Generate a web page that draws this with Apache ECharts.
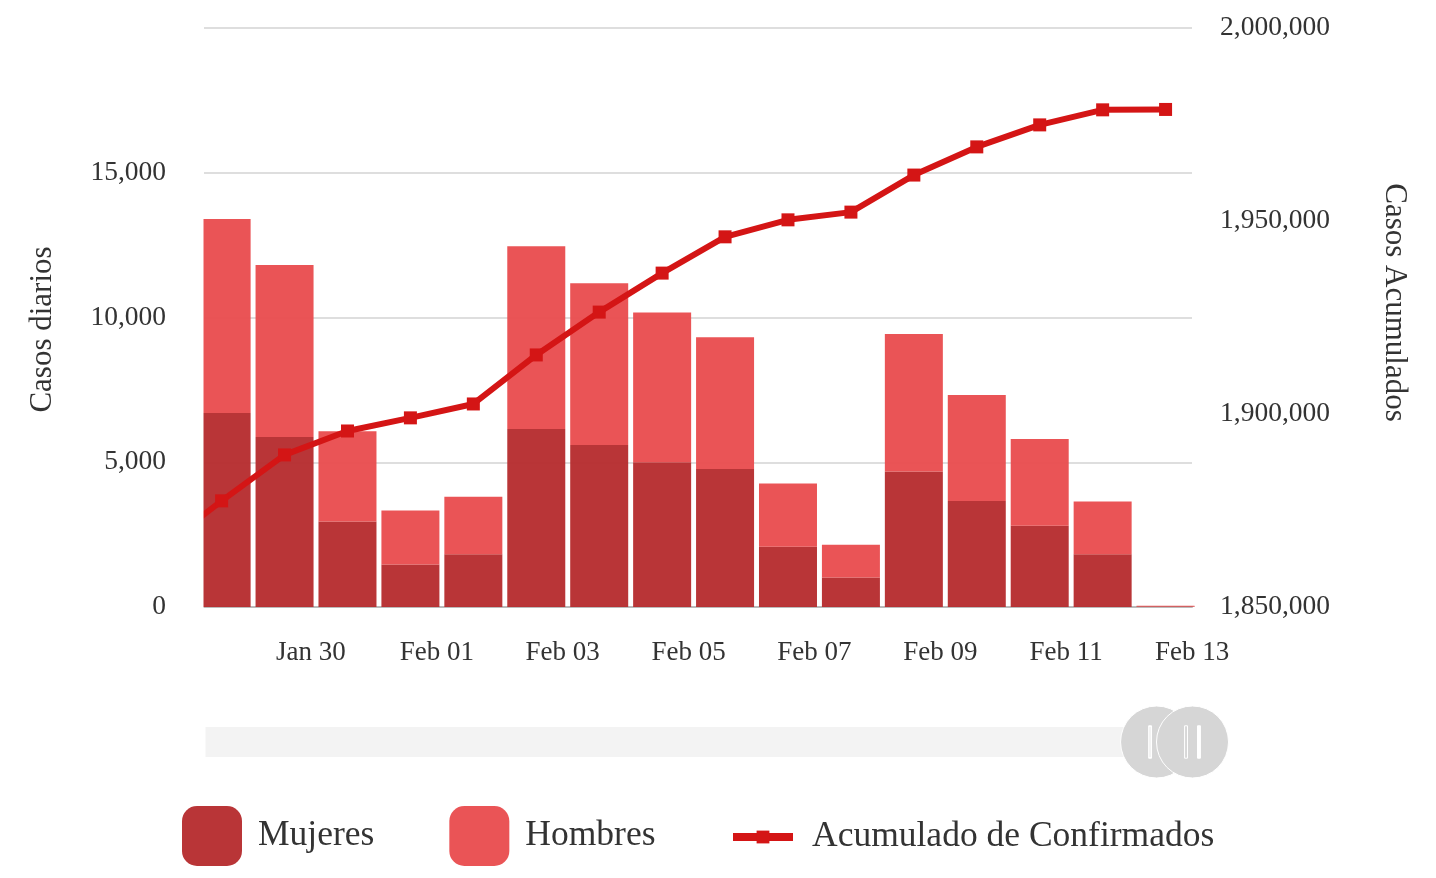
<!DOCTYPE html>
<html>
<head>
<meta charset="utf-8">
<script src="https://cdn.jsdelivr.net/npm/echarts@6/dist/echarts.min.js"></script>
<style>
html,body{margin:0;padding:0;background:#fff;}
#chart{width:1436px;height:878px;}
</style>
</head>
<body>
<div id="chart"></div>
<script>
// ---- data ----
const dates = ['2021-01-27','2021-01-28','2021-01-29','2021-01-30','2021-01-31','2021-02-01','2021-02-02','2021-02-03','2021-02-04','2021-02-05','2021-02-06','2021-02-07','2021-02-08','2021-02-09','2021-02-10','2021-02-11','2021-02-12'];
const mujeres = [null,6700,5870,2950,1470,1820,6150,5600,5000,4770,2080,1020,4680,3660,2810,1820,20];
const hombres = [null,6700,5940,3120,1860,1990,6310,5580,5170,4550,2190,1130,4750,3660,2990,1820,20];
const acumulado = [1865000,1877500,1889400,1895600,1899000,1902600,1915300,1926400,1936500,1945900,1950300,1952300,1961900,1969200,1974900,1978800,1978900];
const leftTicks = [0,5000,10000,15000,20000];
const rightTicks = [1850000,1900000,1950000,2000000];

const DAY = 86400000;
const BASE = Date.UTC(2021,0,30);
const MONTHS = ['Jan','Feb','Mar','Apr','May','Jun','Jul','Aug','Sep','Oct','Nov','Dec'];
// x position = milliseconds from BASE (bars centred inside their day)
function dayPos(d){ const p=d.split('-').map(Number); return Date.UTC(p[0],p[1]-1,p[2]) - BASE + Math.round(0.58*DAY); }
const xs = dates.map(dayPos);
// value first, position second, so the stack runs on the value column
const pairVX = arr => arr.map((v,i)=>[v, xs[i]]);
const pair = arr => arr.map((v,i)=>[xs[i], v]);
const fmt = v => Number(v).toLocaleString('en-US');
const FONT = 'Liberation Serif';

const chart = echarts.init(document.getElementById('chart'));
chart.setOption({
  animation:false,
  backgroundColor:'#fff',
  textStyle:{fontFamily:FONT},
  grid:{left:204, right:244, top:28, bottom:271, containLabel:false},
  legend:[{
    data:['Mujeres','Hombres'],
    left:177, top:801, itemWidth:60, itemHeight:60, itemGap:75,
    icon:'roundRect',
    textStyle:{fontFamily:FONT, fontSize:35.5, color:'#333', padding:[2,0,0,11]}
  },{
    data:[{name:'Acumulado de Confirmados', lineStyle:{width:8}}],
    left:724, top:814, itemWidth:60, itemHeight:16,
    textStyle:{fontFamily:FONT, fontSize:35.5, color:'#333', padding:[2,0,0,14]}
  }],
  // white mask: keeps the half-visible first bar inside the plot's left edge
  graphic:[{type:'rect', z:100, silent:true, shape:{x:176, y:90, width:27.5, height:519}, style:{fill:'#fff'}}],
  xAxis:{
    type:'value', min:-395*DAY, max:14*DAY, minInterval:2*DAY, maxInterval:2*DAY, splitNumber:8,
    axisLine:{show:true, onZero:false, lineStyle:{color:'#bbb', width:2}},
    axisTick:{show:false},
    splitLine:{show:false},
    axisLabel:{
      showMinLabel:false, margin:32,
      fontFamily:FONT, fontSize:27, color:'#333',
      formatter:function(v){
        if (Math.abs(v/DAY-Math.round(v/DAY))>1e-6) return '';
        const d=new Date(BASE+v);
        return MONTHS[d.getUTCMonth()]+' '+String(d.getUTCDate()).padStart(2,'0');
      }
    }
  },
  yAxis:[{
    type:'value', min:leftTicks[0], max:leftTicks[leftTicks.length-1], interval:5000,
    name:'Casos diarios', nameLocation:'middle', nameGap:146,
    nameTextStyle:{fontFamily:FONT, fontSize:31, color:'#333', padding:[0,24,0,0]},
    axisLine:{show:false, onZero:false}, axisTick:{show:false},
    axisLabel:{showMaxLabel:false, margin:38, fontFamily:FONT, fontSize:27.5, color:'#333', formatter:fmt},
    splitLine:{lineStyle:{color:'#dedede', width:2}}
  },{
    type:'value', position:'right', min:rightTicks[0], max:rightTicks[rightTicks.length-1], interval:50000,
    name:'Casos Acumulados', nameLocation:'middle', nameGap:187, nameRotate:-90,
    nameTextStyle:{fontFamily:FONT, fontSize:31, color:'#333', padding:[0,30,0,0]},
    axisLine:{show:false, onZero:false}, axisTick:{show:false},
    axisLabel:{margin:28, fontFamily:FONT, fontSize:27.5, color:'#333', formatter:fmt},
    splitLine:{show:false}
  }],
  dataZoom:[{
    type:'slider', xAxisIndex:0, filterMode:'none',
    startValue:-1.7*DAY, endValue:14*DAY,
    left:204, right:244, top:727, height:30,
    showDetail:false, showDataShadow:false, brushSelect:false, moveHandleSize:0,
    backgroundColor:'#f3f3f3', borderColor:'transparent', borderRadius:15,
    fillerColor:'rgba(0,0,0,0)',
    handleIcon:'path://M0,-10A10,10 0 1,1 0,10A10,10 0 1,1 0,-10Z M-2.2,-4.5L-2.2,4.5L-1.4,4.5L-1.4,-4.5Z M1.4,-4.5L1.4,4.5L2.2,4.5L2.2,-4.5Z',
    handleSize:'240%',
    handleStyle:{color:'#d6d6d6', borderColor:'#fff', borderWidth:1},
    emphasis:{handleStyle:{color:'#d6d6d6'}}
  }],
  series:[{
    name:'Mujeres', type:'bar', stack:'casos', yAxisIndex:0, barWidth:58, clip:true,
    encode:{x:1, y:0},
    itemStyle:{color:'#b52a2c', opacity:0.95},
    data:pairVX(mujeres)
  },{
    name:'Hombres', type:'bar', stack:'casos', yAxisIndex:0, barWidth:58, clip:true,
    encode:{x:1, y:0},
    itemStyle:{color:'#e94b4d', opacity:0.95},
    data:pairVX(hombres)
  },{
    name:'Acumulado de Confirmados', type:'line', yAxisIndex:1, clip:true,
    symbol:'rect', symbolSize:13, showAllSymbol:true,
    lineStyle:{color:'#d41515', width:6},
    itemStyle:{color:'#d41515'},
    z:5,
    data:pair(acumulado)
  }]
});
</script>
</body>
</html>
